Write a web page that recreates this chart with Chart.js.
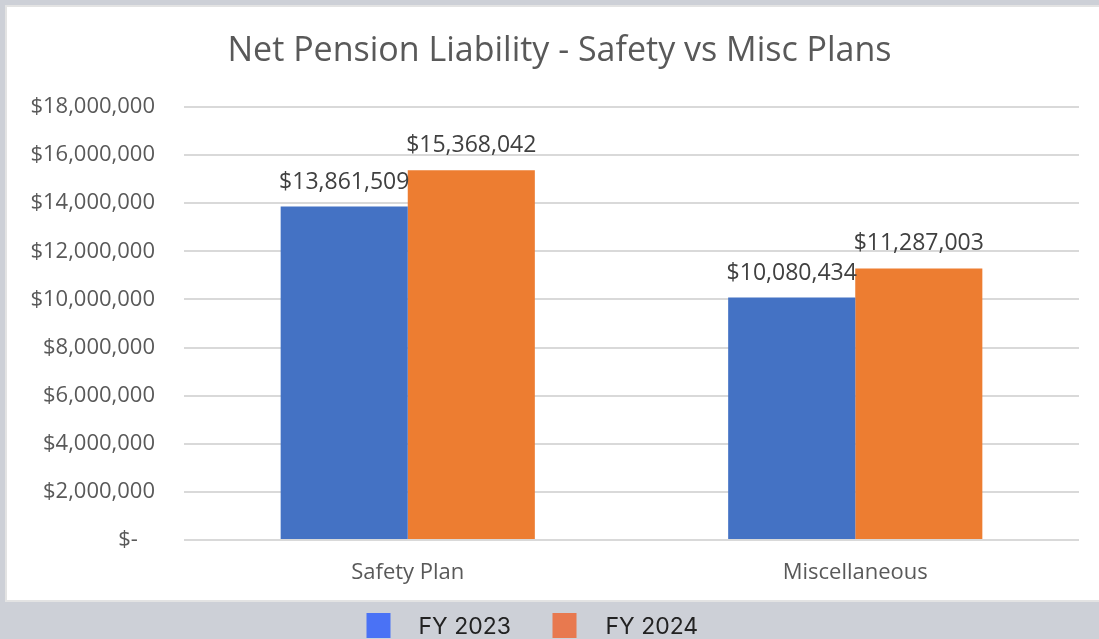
<!DOCTYPE html>
<html>
<head>
<meta charset="utf-8">
<script src="https://cdn.jsdelivr.net/npm/chart.js@4/dist/chart.umd.min.js"></script>
<style>
  html, body { margin: 0; padding: 0; background: #cdd0d7; }
  #wrap { width: 1099px; height: 639px; position: relative; }
</style>
</head>
<body>
<div id="wrap"><canvas id="chart"></canvas></div>
<script>
// values
const chartTitle = 'Net Pension Liability - Safety vs Misc Plans';
const categories = ['Safety Plan', 'Miscellaneous'];
const fy2023 = [13861509, 10080434];
const fy2024 = [15368042, 11287003];
const seriesNames = ['FY 2023', 'FY 2024'];
const yTicks = [0, 2000000, 4000000, 6000000, 8000000, 10000000, 12000000, 14000000, 16000000, 18000000];

const barColors = ['#4472C4', '#ED7D31'];
const legendColors = ['#4a72f5', '#e8794f'];
const textGrey = '#595959';
const baseFont = "'Open Sans', 'Liberation Sans', sans-serif";
const legendFont = "'Inter', 'Noto Sans', sans-serif";

const money = (v) => (v === 0 ? '$-   ' : '$' + v.toLocaleString('en-US'));

// white panel behind the chart, gray page shows round it
const panelPlugin = {
  id: 'panel',
  beforeDraw(chart) {
    const c = chart.ctx;
    c.save();
    c.fillStyle = '#cdd0d7';
    c.fillRect(0, 0, chart.width, chart.height);
    c.fillStyle = '#e3e3e3';
    c.fillRect(5, 5, chart.width - 5, 597);
    c.fillStyle = '#ffffff';
    c.fillRect(7, 7, chart.width - 7, 593);
    c.restore();
  },
};

// title is centred on the panel, not on the plot box
const panelTitle = {
  id: 'panelTitle',
  afterDraw(chart) {
    const c = chart.ctx;
    c.save();
    c.font = '34px ' + baseFont;
    c.fillStyle = textGrey;
    c.textAlign = 'center';
    c.textBaseline = 'middle';
    c.fillText(chartTitle, (chart.width + 20) / 2, 51);
    c.restore();
  },
};

// value labels above each bar
const valueLabels = {
  id: 'valueLabels',
  afterDatasetsDraw(chart) {
    const c = chart.ctx;
    c.save();
    c.font = '23px ' + baseFont;
    c.fillStyle = '#404040';
    c.textAlign = 'center';
    c.textBaseline = 'alphabetic';
    chart.data.datasets.forEach((ds, i) => {
      chart.getDatasetMeta(i).data.forEach((bar, j) => {
        c.fillText(money(ds.data[j]), bar.x, bar.y - 18);
      });
    });
    c.restore();
  },
};

// legend sits on the gray strip under the panel, wide gap between box and text
const bottomLegend = {
  id: 'bottomLegend',
  afterDraw(chart) {
    const c = chart.ctx;
    const cx = chart.width / 2;
    const items = [
      { box: cx - 183, text: cx - 131 },
      { box: cx + 3, text: cx + 56 },
    ];
    c.save();
    c.font = '23px ' + legendFont;
    c.textBaseline = 'middle';
    c.textAlign = 'left';
    chart.data.datasets.forEach((ds, i) => {
      c.fillStyle = legendColors[i];
      c.fillRect(items[i].box, 613, 24, 25);
      c.fillStyle = '#222';
      c.fillText(ds.label, items[i].text, 627);
    });
    c.restore();
  },
};

new Chart(document.getElementById('chart'), {
  type: 'bar',
  data: {
    labels: categories,
    datasets: [
      { label: seriesNames[0], data: fy2023, backgroundColor: barColors[0] },
      { label: seriesNames[1], data: fy2024, backgroundColor: barColors[1] },
    ],
  },
  options: {
    responsive: true,
    maintainAspectRatio: false,
    animation: false,
    layout: { padding: { left: 0, right: 20, top: 107, bottom: 33 } },
    datasets: { bar: { categoryPercentage: 0.568, barPercentage: 1 } },
    plugins: {
      title: { display: false },
      legend: { display: false },
      tooltip: { enabled: false },
    },
    scales: {
      x: {
        grid: { display: false },
        border: { display: false },
        ticks: { color: textGrey, font: { family: baseFont, size: 22 }, padding: 12 },
        afterFit: (s) => { s.height = 66; },
      },
      y: {
        min: 0,
        max: 18000000,
        afterBuildTicks: (s) => { s.ticks = yTicks.map((v) => ({ value: v })); },
        grid: { color: '#d9d9d9', lineWidth: 2, drawTicks: false },
        border: { display: false },
        ticks: {
          color: textGrey,
          font: { family: baseFont, size: 22 },
          padding: 29,
          callback: (v) => money(v),
        },
        afterFit: (s) => { s.width = 184; },
      },
    },
  },
  plugins: [panelPlugin, panelTitle, valueLabels, bottomLegend],
});
</script>
</body>
</html>
